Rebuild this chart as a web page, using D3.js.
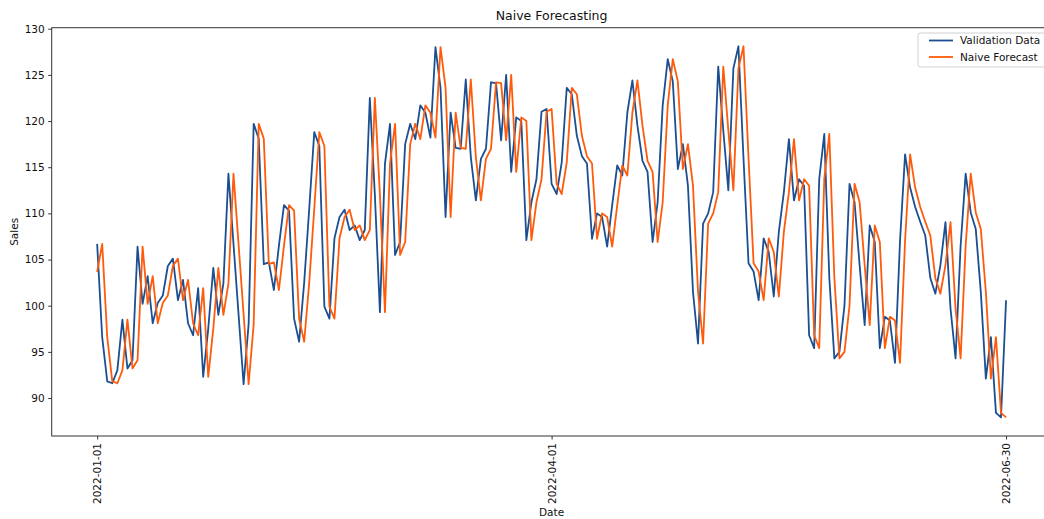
<!DOCTYPE html>
<html>
<head>
<meta charset="utf-8">
<script src="https://cdn.jsdelivr.net/npm/d3@7"></script>
<style>
  html, body { margin: 0; padding: 0; background: #fff; }
  svg { display: block; font-family: "DejaVu Sans", sans-serif; }
</style>
</head>
<body>
<svg id="chart" width="1044" height="519"></svg>
<script>
// Daily sales for the validation window, 2022-01-01 .. 2022-06-30
const startDate = "2022-01-01";
const validation = [
  106.7, 96.6, 91.8, 91.6, 93.0, 98.5, 93.2, 94.1, 106.4, 100.2,
  103.2, 98.1, 100.3, 101.1, 104.3, 105.1, 100.6, 102.8, 98.1, 96.8,
  101.9, 92.3, 97.5, 104.1, 99.0, 102.4, 114.3, 106.7, 99.1, 91.5,
  98.0, 119.7, 118.1, 104.5, 104.7, 101.7, 106.5, 110.9, 110.3, 98.6,
  96.1, 102.5, 110.5, 118.8, 117.3, 99.9, 98.6, 107.3, 109.6, 110.4,
  108.2, 108.7, 107.1, 108.2, 122.5, 112.0, 99.3, 115.4, 119.7, 105.5,
  106.9, 117.5, 119.7, 118.05, 121.7, 120.9, 118.2, 128.0, 123.6, 109.6,
  120.9, 117.1, 117.0, 124.5, 116.1, 111.4, 115.9, 117.0, 124.2, 124.1,
  117.9, 125.0, 114.5, 120.4, 120.0, 107.1, 111.2, 113.7, 121.0, 121.3,
  113.2, 112.1, 115.5, 123.6, 122.9, 118.4, 116.2, 115.4, 107.25, 110.0,
  109.6, 106.4, 110.9, 115.2, 114.1, 120.9, 124.4, 119.5, 115.7, 114.5,
  106.9, 111.2, 121.7, 126.7, 124.3, 114.8, 117.5, 113.0, 101.5, 95.9,
  108.9, 110.0, 112.3, 125.9, 119.0, 112.5, 125.7, 128.1, 116.0, 104.6,
  103.7, 100.6, 107.3, 105.8, 101.0, 108.0, 112.3, 118.05, 111.4, 113.7,
  113.0, 96.8, 95.4, 113.7, 118.6, 103.0, 94.3, 95.0, 100.0, 113.2,
  111.2, 104.4, 97.9, 108.7, 106.9, 95.4, 98.8, 98.4, 93.8, 107.0,
  116.4, 112.8, 110.7, 109.1, 107.6, 103.0, 101.3, 104.4, 109.05, 99.7,
  94.3, 106.5, 114.3, 110.1, 108.3, 101.5, 92.1, 96.6, 88.4, 87.9,
  100.6
];
// Last observed value before the window; the naive forecast repeats the previous day
const lastTrainValue = 103.65;
const naiveForecast = [lastTrainValue].concat(validation.slice(0, -1));

const xTickLabels = ["2022-01-01", "2022-04-01", "2022-06-30"];
const yTickValues = [90, 95, 100, 105, 110, 115, 120, 125, 130];
const seriesNames = ["Validation Data", "Naive Forecast"];
const seriesColors = ["#1b4f91", "#ff5b0a"];

const parse = d3.utcParse("%Y-%m-%d");
const fmt = d3.utcFormat("%Y-%m-%d");
const t0 = parse(startDate);
const dates = validation.map((_, i) => d3.utcDay.offset(t0, i));

const svg = d3.select("#chart");
const plot = { left: 51.7, right: 1051.5, top: 27.7, bottom: 436 };

// 5% padding on each side, as in the usual autoscaled axes
const xExt = d3.extent(dates);
const xPad = (xExt[1] - xExt[0]) * 0.05;
const x = d3.scaleUtc()
  .domain([new Date(+xExt[0] - xPad), new Date(+xExt[1] + xPad)])
  .range([plot.left, plot.right]);

const allVals = validation.concat(naiveForecast);
const yExt = d3.extent(allVals);
const yPad = (yExt[1] - yExt[0]) * 0.05;
const y = d3.scaleLinear()
  .domain([yExt[0] - yPad, yExt[1] + yPad])
  .range([plot.bottom, plot.top]);

// Lines
const line = d3.line().x((d, i) => x(dates[i])).y(d => y(d));
[validation, naiveForecast].forEach((series, k) => {
  svg.append("path")
    .datum(series)
    .attr("fill", "none")
    .attr("stroke", seriesColors[k])
    .attr("stroke-width", 1.8)
    .attr("stroke-linejoin", "round")
    .attr("d", line);
});

// Axes frame
const frameColor = "#333";
svg.append("rect")
  .attr("x", plot.left).attr("y", plot.top)
  .attr("width", plot.right - plot.left).attr("height", plot.bottom - plot.top)
  .attr("fill", "none").attr("stroke", frameColor).attr("stroke-width", 1);

// Y axis
const yAxis = d3.axisLeft(y).tickValues(yTickValues).tickSize(3.5).tickPadding(3.5);
const gy = svg.append("g").attr("transform", `translate(${plot.left},0)`).call(yAxis);
gy.select(".domain").remove();
gy.selectAll(".tick line").attr("stroke", frameColor);
gy.selectAll(".tick text").attr("font-size", 10.5).attr("fill", "#111")
  .attr("font-family", "DejaVu Sans, sans-serif");

// X axis
const xTicks = xTickLabels.map(parse);
const xAxis = d3.axisBottom(x).tickValues(xTicks).tickFormat(fmt).tickSize(3.5);
const gx = svg.append("g").attr("transform", `translate(0,${plot.bottom})`).call(xAxis);
gx.select(".domain").remove();
gx.selectAll(".tick line").attr("stroke", frameColor);
gx.selectAll(".tick text")
  .attr("font-size", 10.5).attr("fill", "#111")
  .attr("font-family", "DejaVu Sans, sans-serif")
  .attr("transform", "rotate(-90)")
  .attr("text-anchor", "end")
  .attr("dy", "0.35em")
  .attr("x", -7)
  .attr("y", 0);

// Titles
svg.append("text")
  .attr("x", (plot.left + plot.right) / 2).attr("y", 20)
  .attr("text-anchor", "middle").attr("font-size", 12.5).attr("fill", "#111")
  .text("Naive Forecasting");
svg.append("text")
  .attr("x", (plot.left + plot.right) / 2).attr("y", 516)
  .attr("text-anchor", "middle").attr("font-size", 10.5).attr("fill", "#111")
  .text("Date");
svg.append("text")
  .attr("transform", `translate(18,${(plot.top + plot.bottom) / 2}) rotate(-90)`)
  .attr("text-anchor", "middle").attr("font-size", 10.5).attr("fill", "#111")
  .text("Sales");

// Legend
const lg = svg.append("g").attr("transform", "translate(918,33)");
lg.append("rect")
  .attr("x", 0).attr("y", 0).attr("width", 128).attr("height", 34)
  .attr("rx", 2.5).attr("fill", "rgba(255,255,255,0.85)")
  .attr("stroke", "#d0d0d0").attr("stroke-width", 1);
seriesNames.forEach((name, k) => {
  const yy = 7.5 + k * 16.5;
  lg.append("line")
    .attr("x1", 11).attr("x2", 35).attr("y1", yy).attr("y2", yy)
    .attr("stroke", seriesColors[k]).attr("stroke-width", 1.8);
  lg.append("text")
    .attr("x", 42).attr("y", yy).attr("dy", "0.35em")
    .attr("font-size", 10.5).attr("fill", "#111")
    .text(name);
});
</script>
</body>
</html>
